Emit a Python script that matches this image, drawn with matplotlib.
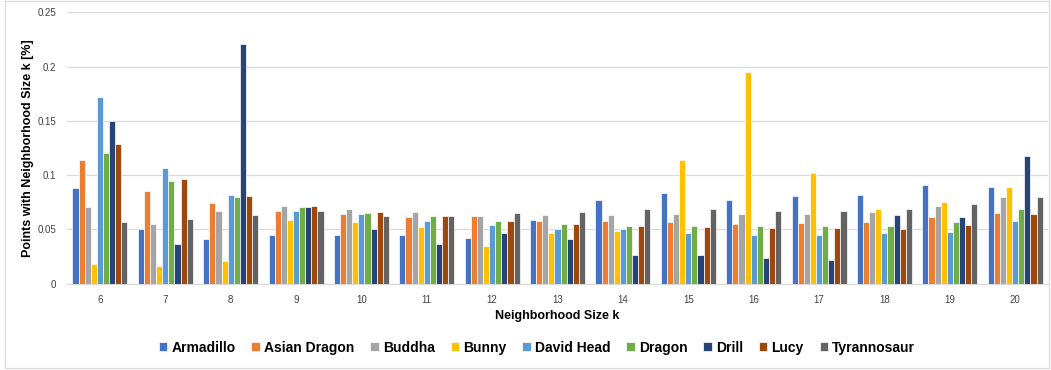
import matplotlib.pyplot as plt
import numpy as np
from matplotlib.patches import Rectangle

plt.rcParams['font.family'] = ['Liberation Sans', 'DejaVu Sans']

# neighborhood sizes on the x axis
k_values = [6, 7, 8, 9, 10, 11, 12, 13, 14, 15, 16, 17, 18, 19, 20]

models = ['Armadillo', 'Asian Dragon', 'Buddha', 'Bunny', 'David Head',
          'Dragon', 'Drill', 'Lucy', 'Tyrannosaur']

armadillo    = [0.088, 0.050, 0.041, 0.045, 0.045, 0.045, 0.042, 0.059, 0.077, 0.084, 0.077, 0.081, 0.082, 0.091, 0.089]
asian_dragon = [0.114, 0.085, 0.074, 0.067, 0.064, 0.061, 0.062, 0.058, 0.058, 0.057, 0.055, 0.056, 0.057, 0.061, 0.065]
buddha       = [0.071, 0.055, 0.067, 0.072, 0.069, 0.066, 0.062, 0.063, 0.063, 0.064, 0.064, 0.064, 0.066, 0.072, 0.080]
bunny        = [0.018, 0.016, 0.021, 0.059, 0.057, 0.052, 0.035, 0.047, 0.049, 0.114, 0.195, 0.102, 0.069, 0.075, 0.089]
david_head   = [0.172, 0.107, 0.082, 0.067, 0.064, 0.058, 0.054, 0.050, 0.050, 0.047, 0.045, 0.045, 0.047, 0.048, 0.058]
dragon       = [0.120, 0.095, 0.080, 0.071, 0.065, 0.062, 0.058, 0.055, 0.053, 0.053, 0.053, 0.053, 0.053, 0.057, 0.069]
drill        = [0.150, 0.037, 0.221, 0.071, 0.050, 0.037, 0.047, 0.041, 0.026, 0.026, 0.024, 0.022, 0.063, 0.061, 0.118]
lucy         = [0.129, 0.096, 0.081, 0.072, 0.066, 0.062, 0.058, 0.055, 0.053, 0.052, 0.051, 0.051, 0.050, 0.054, 0.064]
tyrannosaur  = [0.057, 0.060, 0.063, 0.067, 0.062, 0.062, 0.065, 0.066, 0.069, 0.069, 0.067, 0.067, 0.069, 0.073, 0.080]

series = [armadillo, asian_dragon, buddha, bunny, david_head,
          dragon, drill, lucy, tyrannosaur]

colors = ['#4472C4', '#ED7D31', '#A5A5A5', '#FFC000', '#5B9BD5',
          '#70AD47', '#264478', '#9E480E', '#636363']

fig = plt.figure(figsize=(10.51, 3.70), dpi=100)
ax = fig.add_axes([0.064, 0.2332, 0.933, 0.7336])

x = np.arange(len(k_values))
w = 0.0935
for i, (name, vals) in enumerate(zip(models, series)):
    ax.bar(x + (i - 4) * w, vals, width=w, color=colors[i],
           edgecolor='white', linewidth=0.5, label=name, zorder=3)

ax.set_xlim(-0.5, len(k_values) - 0.5)
ax.set_ylim(0, 0.25)
ax.set_yticks([0, 0.05, 0.1, 0.15, 0.2, 0.25])
ax.set_yticklabels(['0', '0.05', '0.1', '0.15', '0.2', '0.25'])
ax.set_xticks(x)
ax.set_xticklabels([str(k) for k in k_values])
ax.tick_params(axis='both', length=0, labelsize=7, colors='#404040', pad=8)
ax.tick_params(axis='x', pad=8)

ax.grid(axis='y', color='#d9d9d9', linewidth=0.9, zorder=0)
for s in ['top', 'right', 'left']:
    ax.spines[s].set_visible(False)
ax.spines['bottom'].set_color('#d9d9d9')
ax.spines['bottom'].set_linewidth(0.9)

ax.set_ylabel('Points with Neighborhood Size k [%]', fontsize=9, fontweight='bold')
ax.yaxis.set_label_coords(-0.034, 0.5)
ax.set_xlabel('Neighborhood Size k', fontsize=9, fontweight='bold', labelpad=4)

fig.legend(loc='center', bbox_to_anchor=(0.511, 0.06), ncol=9, frameon=False,
           handlelength=0.6, handleheight=0.6, handletextpad=0.3,
           columnspacing=1.15, prop={'weight': 'bold', 'size': 10})

# light chart border
fig.patches.append(Rectangle((0.005, 0.005), 0.993, 0.992, transform=fig.transFigure,
                             fill=False, edgecolor='#d9d9d9', linewidth=0.9))

plt.savefig('out.png', dpi=100)
